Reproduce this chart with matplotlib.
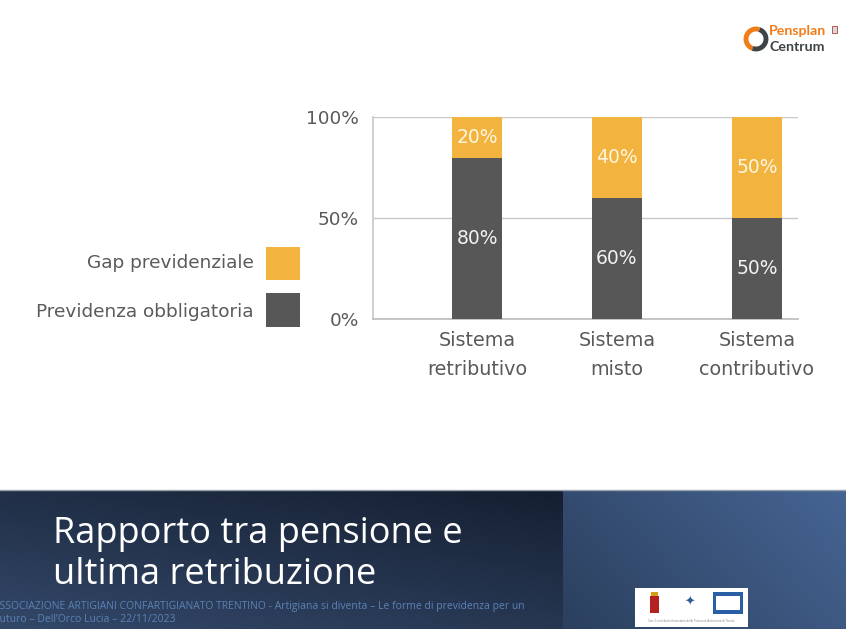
import numpy as np
import matplotlib
matplotlib.use("Agg")
import matplotlib.pyplot as plt
from matplotlib.patches import Rectangle, Arc

# dati del grafico
categorie = ["Sistema\nretributivo", "Sistema\nmisto", "Sistema\ncontributivo"]
obbligatoria = [80, 60, 50]
gap = [20, 40, 50]
serie_nomi = ["Gap previdenziale", "Previdenza obbligatoria"]
y_ticks = [0, 50, 100]
y_labels = ["0%", "50%", "100%"]

titolo = ["Rapporto tra pensione e", "ultima retribuzione"]
piede = ["ASSOCIAZIONE ARTIGIANI CONFARTIGIANATO TRENTINO - Artigiana si diventa \u2013 Le forme di previdenza per un",
         "futuro \u2013 Dell\u2019Orco Lucia \u2013 22/11/2023"]

GRIGIO = "#575757"
ARANCIO = "#F2B33F"
TESTO = "#5a5a5a"

W, H = 846, 629
fig = plt.figure(figsize=(W / 100, H / 100), dpi=100)
fig.patch.set_facecolor("white")

# sfondo / banner (coordinate in pixel)
bg = fig.add_axes([0, 0, 1, 1])
bg.set_xlim(0, W)
bg.set_ylim(H, 0)
bg.axis("off")

# banner scuro a sinistra
yy, xx = np.mgrid[0:1:60j, 0:1:120j]
sx = 0.08 + 0.12 * yy - 0.08 * xx
left_grad = np.dstack([0.08 + sx * 0.6, 0.12 + sx * 0.8, 0.19 + sx * 1.1])
bg.imshow(np.clip(left_grad, 0, 1), extent=[0, 563, 629, 490], aspect="auto", zorder=1)
# banner chiaro a destra
dx = 0.55 * xx + 0.25 * (1 - yy)
right_grad = np.dstack([0.17 + 0.13 * dx, 0.25 + 0.18 * dx, 0.37 + 0.26 * dx])
bg.imshow(np.clip(right_grad, 0, 1), extent=[563, 846, 629, 490], aspect="auto", zorder=1)
bg.plot([0, W], [489.5, 489.5], color="#9aa3ad", lw=1, zorder=2)

bg.text(53, 543, titolo[0], color="white", fontsize=26, family="Open Sans",
        ha="left", va="baseline", zorder=3)
bg.text(53, 584, titolo[1], color="white", fontsize=26, family="Open Sans",
        ha="left", va="baseline", zorder=3)
bg.text(-7, 606, piede[0], color="#5c82b5", fontsize=7.5, family="Open Sans",
        ha="left", va="center", zorder=3)
bg.text(-4, 619, piede[1], color="#5c82b5", fontsize=7.5, family="Open Sans",
        ha="left", va="center", zorder=3)

# riquadro loghi in basso
bg.add_patch(Rectangle((635, 588), 113, 39, facecolor="white", edgecolor="none", zorder=3))
bg.add_patch(Rectangle((650, 596), 9, 17, facecolor="#b22222", edgecolor="none", zorder=4))
bg.add_patch(Rectangle((651, 592), 7, 4, facecolor="#d4a017", edgecolor="none", zorder=4))
bg.text(690, 602, "\u2726", color="#2f5d9a", fontsize=9, ha="center", va="center", zorder=4)
bg.add_patch(Rectangle((713, 592), 30, 22, facecolor="#2a5fa5", edgecolor="none", zorder=4))
bg.add_patch(Rectangle((716, 596), 24, 14, facecolor="white", edgecolor="none", zorder=5))
bg.text(691, 621, "Con il contributo finanziario della Provincia Autonoma di Trento",
        color="#888888", fontsize=2, ha="center", va="center", zorder=4)

# logo Pensplan Centrum
bg.add_patch(Arc((756, 39), 20, 20, theta1=110, theta2=290, color="#f07c1a", lw=3.5, zorder=4))
bg.add_patch(Arc((756, 39), 20, 20, theta1=-70, theta2=110, color="#3d4347", lw=3.5, zorder=4))
bg.text(769, 31, "Pensplan", color="#f07c1a", fontsize=10.2, weight="bold",
        family="Lato", ha="left", va="center", zorder=4)
bg.text(769, 47, "Centrum", color="#3d4347", fontsize=10.2, weight="bold",
        family="Lato", ha="left", va="center", zorder=4)
bg.add_patch(Rectangle((832, 26), 5, 7, facecolor="#d9d9d9", edgecolor="#b04040", lw=0.6, zorder=4))

# legenda a sinistra
bg.add_patch(Rectangle((266, 247), 34, 33, facecolor=ARANCIO, edgecolor="none", zorder=4))
bg.add_patch(Rectangle((266, 293), 34, 34, facecolor=GRIGIO, edgecolor="none", zorder=4))
bg.text(254, 263, serie_nomi[0], color=TESTO, fontsize=13.3, ha="right", va="center", zorder=4)
bg.text(254, 312, serie_nomi[1], color=TESTO, fontsize=13.3, ha="right", va="center", zorder=4)

# grafico a barre
ax = fig.add_axes([373 / W, 1 - 319 / H, (798 - 373) / W, (319 - 117.5) / H])
x = np.arange(len(categorie))
b1 = ax.bar(x, obbligatoria, width=0.357, color=GRIGIO, zorder=3)
b2 = ax.bar(x, gap, bottom=obbligatoria, width=0.357, color=ARANCIO, zorder=3)
ax.bar_label(b1, labels=[f"{v}%" for v in obbligatoria], label_type="center",
             color="#f2f2f2", fontsize=13.5)
ax.bar_label(b2, labels=[f"{v}%" for v in gap], label_type="center",
             color="#fff6e0", fontsize=13.5)

ax.set_xlim(-0.743, 2.293)
ax.set_ylim(0, 100)
ax.set_yticks(y_ticks)
ax.set_yticklabels(y_labels, fontsize=13.3, color=TESTO)
ax.set_xticks(x)
ax.set_xticklabels(categorie, fontsize=13.8, color=TESTO, linespacing=1.65)
ax.tick_params(length=0, pad=10)
ax.tick_params(axis="x", pad=9)
ax.grid(axis="y", color="#c8c8c8", lw=1, zorder=0)
for s in ["top", "right"]:
    ax.spines[s].set_visible(False)
ax.spines["left"].set_color("#cccccc")
ax.spines["bottom"].set_color("#c0c0c0")
ax.spines["left"].set_linewidth(1.3)
ax.spines["bottom"].set_linewidth(1.3)
ax.set_facecolor("none")

fig.savefig("out.png", dpi=100)
